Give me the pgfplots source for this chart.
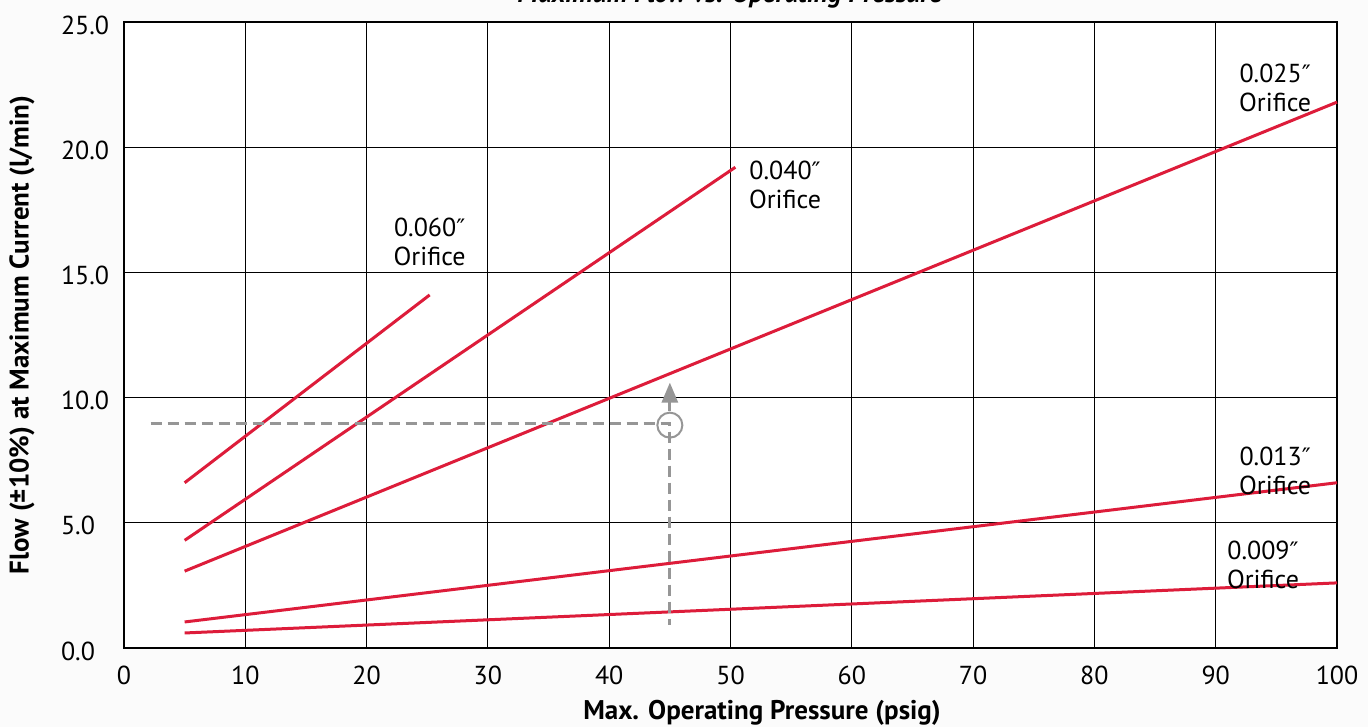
\documentclass[border=0pt]{standalone}
\usepackage{pgfplots}
\pgfplotsset{compat=1.18}
\usepackage{fontspec}
\setmainfont{PT Sans}
\newfontfamily\symf{DejaVu Sans}
\usetikzlibrary{arrows.meta}
\definecolor{lred}{RGB}{221,28,58}
\definecolor{dgray}{RGB}{150,150,150}
\definecolor{bg}{RGB}{251,251,251}
\newcommand{\dq}{{\symf\fontsize{12bp}{13bp}\selectfont ″}}
\begin{document}
\begin{tikzpicture}
\fill[bg] (-62bp,-39.5bp) rectangle (622bp,324bp);
\begin{axis}[name=ax, at={(0,0)}, anchor=south west,
  scale only axis, width=606.5bp, height=313bp,
  xmin=0, xmax=100, ymin=0, ymax=25,
  xtick={0,10,...,100}, ytick={0,5,...,25},
  axis background/.style={fill=white},
  grid=major, major grid style={black, line width=0.5bp},
  axis line style={black, line width=1bp},
  tick style={draw=none},
  /pgf/number format/assume math mode=true,
  yticklabel={\pgfmathprintnumber[fixed,fixed zerofill,precision=1]{\tick}},
  y tick label style={anchor=west, xshift=-35bp, yshift=-1.5bp, font=\fontsize{13bp}{14bp}\selectfont},
  x tick label style={yshift=-5.5bp, font=\fontsize{13bp}{14bp}\selectfont},
  clip=false,
]
\addplot[lred, line width=1.5bp] coordinates {(5,6.6) (25.2,14.1)};
\addplot[lred, line width=1.5bp] coordinates {(5,4.3) (50.4,19.2)};
\addplot[lred, line width=1.5bp] coordinates {(5,3.07) (100,21.8)};
\addplot[lred, line width=1.5bp] coordinates {(5,1.04) (100,6.6)};
\addplot[lred, line width=1.5bp] coordinates {(5,0.6) (100,2.6)};
\addplot[dgray, line width=1.4bp, dash pattern=on 5.5bp off 3bp] coordinates {(2.2,8.95) (45,8.95) (45,0.9)};
\addplot[dgray, line width=1.4bp, -{Triangle[length=10bp,width=8bp]}] coordinates {(45,9.45) (45,10.6)};
\addplot[only marks, mark=o, mark size=6.25bp, mark options={dgray, line width=1bp}] coordinates {(45,8.9)};
\node[align=center, font=\fontsize{13bp}{14.5bp}\selectfont] at (axis cs:94.9,22.35) {0.025\dq\\Orifice};
\node[align=center, font=\fontsize{13bp}{14.5bp}\selectfont] at (axis cs:54.5,18.5) {0.040\dq\\Orifice};
\node[align=center, font=\fontsize{13bp}{14.5bp}\selectfont] at (axis cs:25.2,16.2) {0.060\dq\\Orifice};
\node[align=center, font=\fontsize{13bp}{14.5bp}\selectfont] at (axis cs:94.9,7.07) {0.013\dq\\Orifice};
\node[align=center, font=\fontsize{13bp}{14.5bp}\selectfont] at (axis cs:93.9,3.3) {0.009\dq\\Orifice};
\end{axis}
\node[font=\bfseries\fontsize{13.5bp}{15bp}\selectfont] at ([shift={(319bp,-32.5bp)}]ax.south west) {Max. Operating Pressure (psig)};
\node[font=\bfseries\fontsize{13.5bp}{15bp}\selectfont, rotate=90] at ([shift={(-51bp,156.5bp)}]ax.south west) {Flow (±10\%) at Maximum Current (l/min)};
\node[font=\bfseries\itshape\fontsize{13.5bp}{15bp}\selectfont, anchor=base] at ([shift={(303bp,322.5bp)}]ax.south west) {Maximum Flow vs. Operating Pressure};
\pgfresetboundingbox
\path[use as bounding box] ([shift={(-62bp,-39.5bp)}]ax.south west) rectangle ([shift={(622bp,324bp)}]ax.south west);
\end{tikzpicture}
\end{document}
